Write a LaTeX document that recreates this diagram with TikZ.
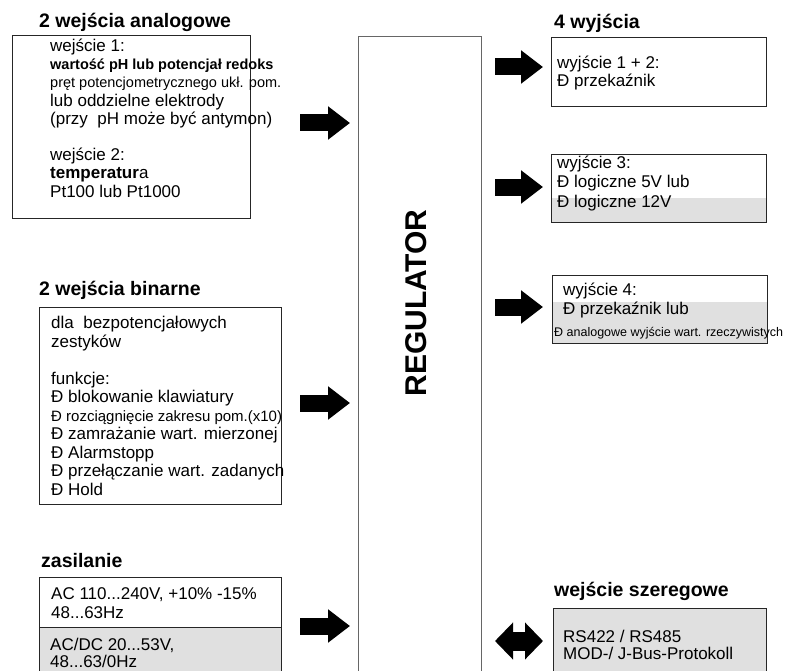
\documentclass[tikz,border=0pt]{standalone}
\usepackage{fontspec}
\setmainfont{Liberation Sans}
\usetikzlibrary{arrows.meta}

\tikzset{
  box/.style={draw=black!85, line width=0.8pt, inner sep=0pt, anchor=north west},
  greyfill/.style={fill=black!12},
  txt/.style={inner sep=0pt, anchor=base west, align=left, font=\fontsize{17}{18.2}\selectfont},
  head/.style={inner sep=0pt, anchor=base west, font=\fontsize{19.5}{20}\selectfont\bfseries},
  bigarrow/.style={line width=17pt, -{Triangle[length=22pt,width=32pt]}},
  bothways/.style={line width=19pt, {Triangle[length=18pt,width=36pt]}-{Triangle[length=18pt,width=36pt]}}
}
\newcommand{\smtxt}[1]{{\fontsize{14.5}{18.2}\selectfont #1}}

\begin{document}
\begin{tikzpicture}[x=1pt,y=-1pt]
\useasboundingbox (0,0) rectangle (786,671);
\clip (0,0) rectangle (786,671);

%% grey parts
\fill[greyfill] (551,198) rectangle (766,222);
\fill[greyfill] (552,302) rectangle (767,343);
\fill[greyfill] (39,627) rectangle (281,690);
\fill[greyfill] (553,608) rectangle (766,690);

%% boxes
\node[box, minimum width=238pt, minimum height=183pt] (ana) at (12,35) {};
\node[box, minimum width=242pt, minimum height=197pt] (bin) at (39,307) {};
\node[box, minimum width=242pt, minimum height=113pt] (pow) at (39,577) {};
\draw[draw=black!85, line width=0.8pt] (pow.west |- 0,627) -- (pow.east |- 0,627);
\node[box, draw=black!60, minimum width=123pt, minimum height=660pt] (reg) at (358,36) {};
\node[box, minimum width=215pt, minimum height=69pt] (out1) at (551,37) {};
\node[box, minimum width=215pt, minimum height=68pt] (out2) at (551,154) {};
\node[box, minimum width=215pt, minimum height=68pt] (out3) at (552,275) {};
\node[box, minimum width=213pt, minimum height=82pt] (ser) at (553,608) {};

%% headings
\node[head] (anahead) at (39,28) {2 wejścia analogowe};
\node[head] (binhead) at (39,295) {2 wejścia binarne};
\node[head] (powhead) at (41,567) {zasilanie};
\node[head] (outhead) at (554,29) {4 wyjścia};
\node[head] (serhead) at (554,596) {wejście szeregowe};

%% texts (anchored at the baseline of their last line)
\node[txt] (anatxt) at (50,197) {wejście 1:\\
  \smtxt{\bfseries wartość pH lub potencjał redoks}\\
  \smtxt{pręt potencjometrycznego ukł. pom.}\\
  lub oddzielne elektrody\\
  (przy~ pH może być antymon)\\[18.2pt]
  wejście 2:\\
  \textbf{temperatur}a\\
  Pt100 lub Pt1000};
\node[txt, font=\fontsize{17}{18.5}\selectfont] (bintxt) at (51,495) {dla~ bezpotencjałowych\\
  zestyków\\[18.5pt]
  funkcje:\\
  Đ blokowanie klawiatury\\
  {\fontsize{15}{18.5}\selectfont Đ rozciągnięcie zakresu pom.(x10)}\\
  Đ zamrażanie wart. mierzonej\\
  Đ Alarmstopp\\
  Đ przełączanie wart. zadanych\\
  Đ Hold};
\node[txt] (powtxt) at (51,618) {AC 110...240V, +10\% -15\%\\ 48...63Hz};
\node[txt, font=\fontsize{17}{17}\selectfont] (powtxt2) at (50,667) {AC/DC 20...53V,\\ 48...63/0Hz};
\node[txt, font=\fontsize{30}{30}\selectfont\bfseries, anchor=center, rotate=90] (regtxt) at (416,303) {REGULATOR};
\node[txt] (out1txt) at (557,87) {wyjście 1 + 2:\\ Đ przekaźnik};
\node[txt, font=\fontsize{17}{19.5}\selectfont] (out2txt) at (557,207) {wyjście 3:\\ Đ logiczne 5V lub\\ Đ logiczne 12V};
\node[txt, font=\fontsize{17}{19}\selectfont] (out3txt) at (563,314) {wyjście 4:\\ Đ przekaźnik lub};
\node[txt, font=\fontsize{12.5}{13}\selectfont] (out3sm) at (554,336) {Đ analogowe wyjście wart. rzeczywistych};
\node[txt, font=\fontsize{17}{16.5}\selectfont] (sertxt) at (563,659) {RS422 / RS485\\ MOD-/ J-Bus-Protokoll};

%% arrows
\coordinate (i1) at (300,123);
\coordinate (i2) at (300,403);
\coordinate (i3) at (300,626);
\coordinate (o1) at (495,67);
\coordinate (o2) at (495,187);
\coordinate (o3) at (495,307);
\coordinate (s1) at (495,641);
\draw[bigarrow, shorten >=8pt] (i1) -- (i1 -| reg.west);
\draw[bigarrow, shorten >=8pt] (i2) -- (i2 -| reg.west);
\draw[bigarrow, shorten >=8pt] (i3) -- (i3 -| reg.west);
\draw[bigarrow, shorten >=8pt] (o1) -- (o1 -| out1.west);
\draw[bigarrow, shorten >=8pt] (o2) -- (o2 -| out2.west);
\draw[bigarrow, shorten >=9pt] (o3) -- (o3 -| out3.west);
\draw[bothways, shorten >=10pt] (s1) -- (s1 -| ser.west);

\end{tikzpicture}
\end{document}
